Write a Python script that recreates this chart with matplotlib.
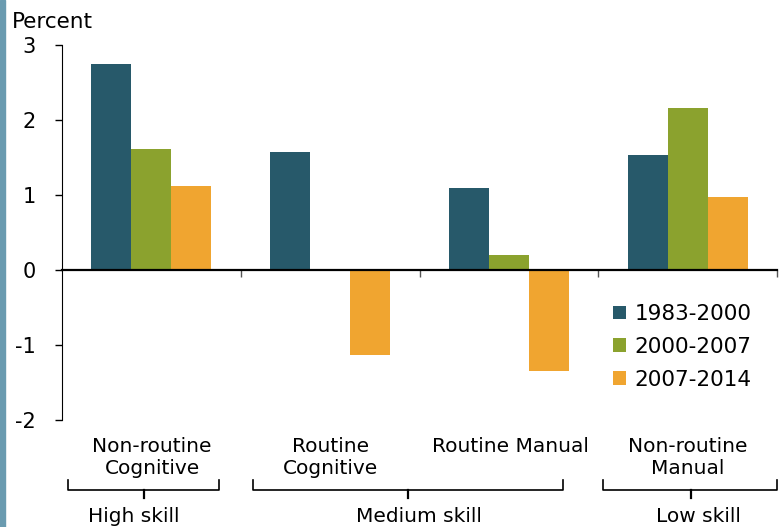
import numpy as np
import matplotlib
matplotlib.use("Agg")
import matplotlib.pyplot as plt
from matplotlib.patches import Patch, Rectangle

# data
categories = ["Non-routine\nCognitive", "Routine\nCognitive", "Routine Manual", "Non-routine\nManual"]
periods = ["1983-2000", "2000-2007", "2007-2014"]
v_1983_2000 = [2.75, 1.57, 1.09, 1.53]
v_2000_2007 = [1.61, 0.02, 0.20, 2.16]
v_2007_2014 = [1.12, -1.13, -1.35, 0.98]
skill_groups = ["High skill", "Medium skill", "Low skill"]
yticks = [3, 2, 1, 0, -1, -2]

colors = ["#27596a", "#8ba22e", "#f0a530"]
series = [v_1983_2000, v_2000_2007, v_2007_2014]

plt.rcParams['font.family'] = ['DejaVu Sans']
W, H = 783, 527
fig = plt.figure(figsize=(W / 100, H / 100), dpi=100)

# left stripe
fig.patches.append(Rectangle((0, 0), 5 / W, 1, transform=fig.transFigure,
                             color="#6a9bb0", zorder=0))

ax = fig.add_axes([62 / W, 1 - 420 / H, (777 - 62) / W, (420 - 45) / H])
x = np.arange(len(categories))
bw = 0.224
for i, (vals, c) in enumerate(zip(series, colors)):
    ax.bar(x + (i - 1) * bw, vals, width=bw, color=c, label=periods[i], zorder=2)

ax.set_xlim(-0.5, len(categories) - 0.5)
ax.set_ylim(-2, 3)
ax.set_yticks(yticks)
ax.set_yticklabels([str(t) for t in yticks], fontsize=15)
ax.tick_params(axis='y', direction='out', length=5, width=1, pad=14)

ax.spines['top'].set_visible(False)
ax.spines['right'].set_visible(False)
ax.spines['bottom'].set_position(('data', 0))
ax.spines['bottom'].set_linewidth(1.6)
ax.set_xticks(np.arange(len(categories)) + 0.5)
ax.set_xticklabels([])
ax.tick_params(axis='x', direction='out', length=5, width=1, color="#555555")

handles = [Patch(facecolor=c, edgecolor='none') for c in colors]
fig.legend(handles, periods, loc='upper left',
           bbox_to_anchor=(613 / W, 1 - 304 / H), borderpad=0, borderaxespad=0,
           frameon=False, fontsize=15.5, handlelength=0.6, handleheight=0.6,
           handletextpad=0.4, labelspacing=0.6)

fig.text(12 / W, 1 - 22 / H, "Percent", fontsize=15.5, va='center', ha='left')

# overlay in pixel space for category labels and braces
ov = fig.add_axes([0, 0, 1, 1], facecolor='none')
ov.set_xlim(0, W)
ov.set_ylim(H, 0)
ov.axis('off')

cat_x = [152, 331, 510, 688]
for cx, lab in zip(cat_x, categories):
    ov.text(cx, 437, lab, ha='center', va='top', fontsize=14.5, linespacing=1.2)

braces = [(68, 219, 144), (253, 563, 408), (603, 777, 691)]
label_x = [134, 419, 698]
for (x0, x1, xc), lab, lx in zip(braces, skill_groups, label_x):
    ov.plot([x0, x0, x1, x1], [480, 490, 490, 480], color='black', lw=1.2)
    ov.plot([xc, xc], [490, 498], color='black', lw=1.6)
    ov.text(lx, 507, lab, ha='center', va='top', fontsize=14.5)

fig.savefig("out.png", dpi=100)
